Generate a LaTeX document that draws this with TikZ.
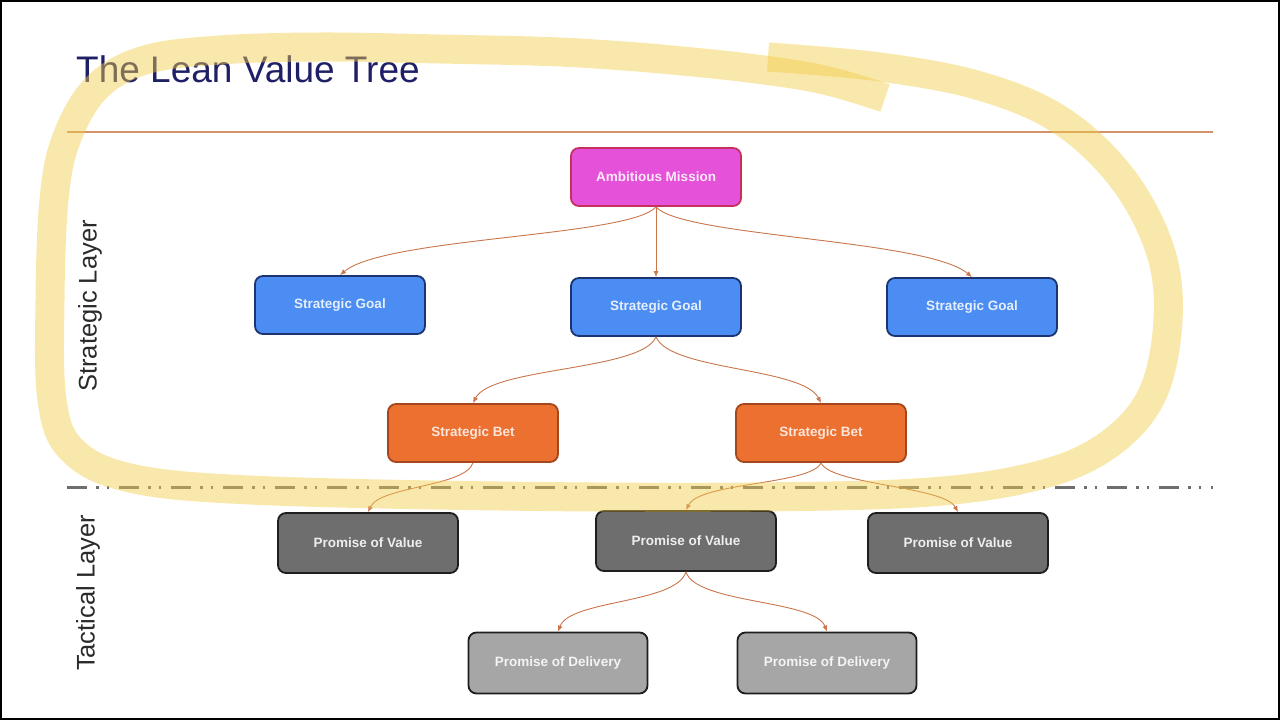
\documentclass[tikz,border=0pt]{standalone}
\usepackage{fontspec}
\setmainfont{Liberation Sans}
\usetikzlibrary{arrows.meta}
\definecolor{titlec}{HTML}{1F1F66}
\definecolor{labc}{HTML}{2A2A2A}
\definecolor{magf}{HTML}{E651D9}
\definecolor{magd}{HTML}{C5305E}
\definecolor{bluef}{HTML}{4B8DF2}
\definecolor{blued}{HTML}{1C3470}
\definecolor{oranf}{HTML}{EC7030}
\definecolor{orand}{HTML}{A5471C}
\definecolor{dgrayf}{HTML}{6E6E6E}
\definecolor{lgrayf}{HTML}{A6A6A6}
\definecolor{boxd}{HTML}{1E1E1E}
\definecolor{conn}{HTML}{C8764A}
\definecolor{topline}{HTML}{D4926A}
\definecolor{dashc}{HTML}{6E6E6E}
\definecolor{hl}{HTML}{F3CC48}
\tikzset{
  box/.style={rectangle, rounded corners=8pt, line width=1.8pt, inner sep=0pt,
    minimum width=170pt, minimum height=58pt,
    font=\fontsize{13.5}{15}\selectfont\bfseries},
  mission/.style={box, fill=magf, draw=magd, text=white!88!magf},
  goal/.style={box, fill=bluef, draw=blued, text=white!85!bluef},
  bet/.style={box, fill=oranf, draw=orand, text=white!82!oranf},
  pval/.style={box, fill=dgrayf, draw=boxd, text=white!88!dgrayf, minimum width=180pt, minimum height=60pt},
  pdel/.style={box, fill=lgrayf, draw=boxd, text=white!88!lgrayf, minimum width=179pt, minimum height=61pt},
  link/.style={draw=conn, line width=0.9pt, -{Latex[length=6pt,width=5pt]}},
  sidelab/.style={rotate=90, text=labc, font=\fontsize{25.5}{28}\selectfont},
  highlight/.style={draw=hl, draw opacity=0.45, line width=29pt, line cap=butt, line join=round}
}
\begin{document}
\begin{tikzpicture}[x=1pt,y=-1pt]
\useasboundingbox (0,0) rectangle (1280,720);
\fill[white] (0,0) rectangle (1280,720);

% title
\node[anchor=base west, inner sep=0pt, text=titlec, font=\fontsize{37}{40}\selectfont] (title) at (76,82) {The Lean Value Tree};

% separators
\coordinate (tl1) at (67,132); \coordinate (tl2) at (1213,132);
\draw[topline, line width=1.4pt] (tl1) -- (tl2);
\coordinate (dl1) at (67,487); \coordinate (dl2) at (1213,487);
\draw[dashc, line width=3pt, dash pattern=on 20pt off 9pt on 2.5pt off 8pt on 2.5pt off 10pt] (dl1) -- (dl2);

% side labels
\node[sidelab] (strat) at (90,306) {Strategic Layer};
\node[sidelab] (tact) at (88,593) {Tactical Layer};

% nodes
\node[mission] (am) at (656,177) {Ambitious Mission};
\node[goal] (sg1) at (340,305) {Strategic Goal};
\node[goal] (sg2) at (656,307) {Strategic Goal};
\node[goal] (sg3) at (972,307) {Strategic Goal};
\node[bet] (sb1) at (473,433) {Strategic Bet};
\node[bet] (sb2) at (821,433) {Strategic Bet};
\node[pval] (pv1) at (368,543) {Promise of Value};
\node[pval] (pv2) at (686,541) {Promise of Value};
\node[pval] (pv3) at (958,543) {Promise of Value};
\node[pdel] (pd1) at (558,663) {Promise of Delivery};
\node[pdel] (pd2) at (827,663) {Promise of Delivery};

% connectors
\draw[link] (am.south) .. controls +(-26,30) and +(45,-38) .. (sg1.north);
\draw[link] (am.south) -- (sg2.north);
\draw[link] (am.south) .. controls +(26,30) and +(-45,-38) .. (sg3.north);
\draw[link] (sg2.south) .. controls +(-14,34) and +(18,-36) .. (sb1.north);
\draw[link] (sg2.south) .. controls +(14,34) and +(-18,-36) .. (sb2.north);
\draw[link] (sb1.south) .. controls +(-8,24) and +(12,-26) .. (pv1.north);
\draw[link] (sb2.south) .. controls +(-10,22) and +(14,-28) .. (pv2.north);
\draw[link] (sb2.south) .. controls +(10,22) and +(-14,-26) .. (pv3.north);
\draw[link] (pv2.south) .. controls +(-10,32) and +(12,-32) .. (pd1.north);
\draw[link] (pv2.south) .. controls +(10,32) and +(-12,-32) .. (pd2.north);

% highlighter loop
\draw[highlight] plot[smooth, tension=0.6] coordinates {(768,57) (880,67) (980,86) (1060,120) (1122,178) (1160,250) (1168,320) (1152,395) (1108,445) (1040,475) (930,492) (750,497) (500,496) (250,490) (130,478) (72,450) (52,400) (50,300) (54,200) (66,140) (96,88) (145,60) (220,50) (320,47) (440,49) (560,52) (650,58)};
\draw[highlight] plot[smooth, tension=0.6] coordinates {(650,58) (740,67) (820,79) (885,98)};

% frame
\draw[black, line width=2pt] (1,1) rectangle (1279,719);
\end{tikzpicture}
\end{document}
